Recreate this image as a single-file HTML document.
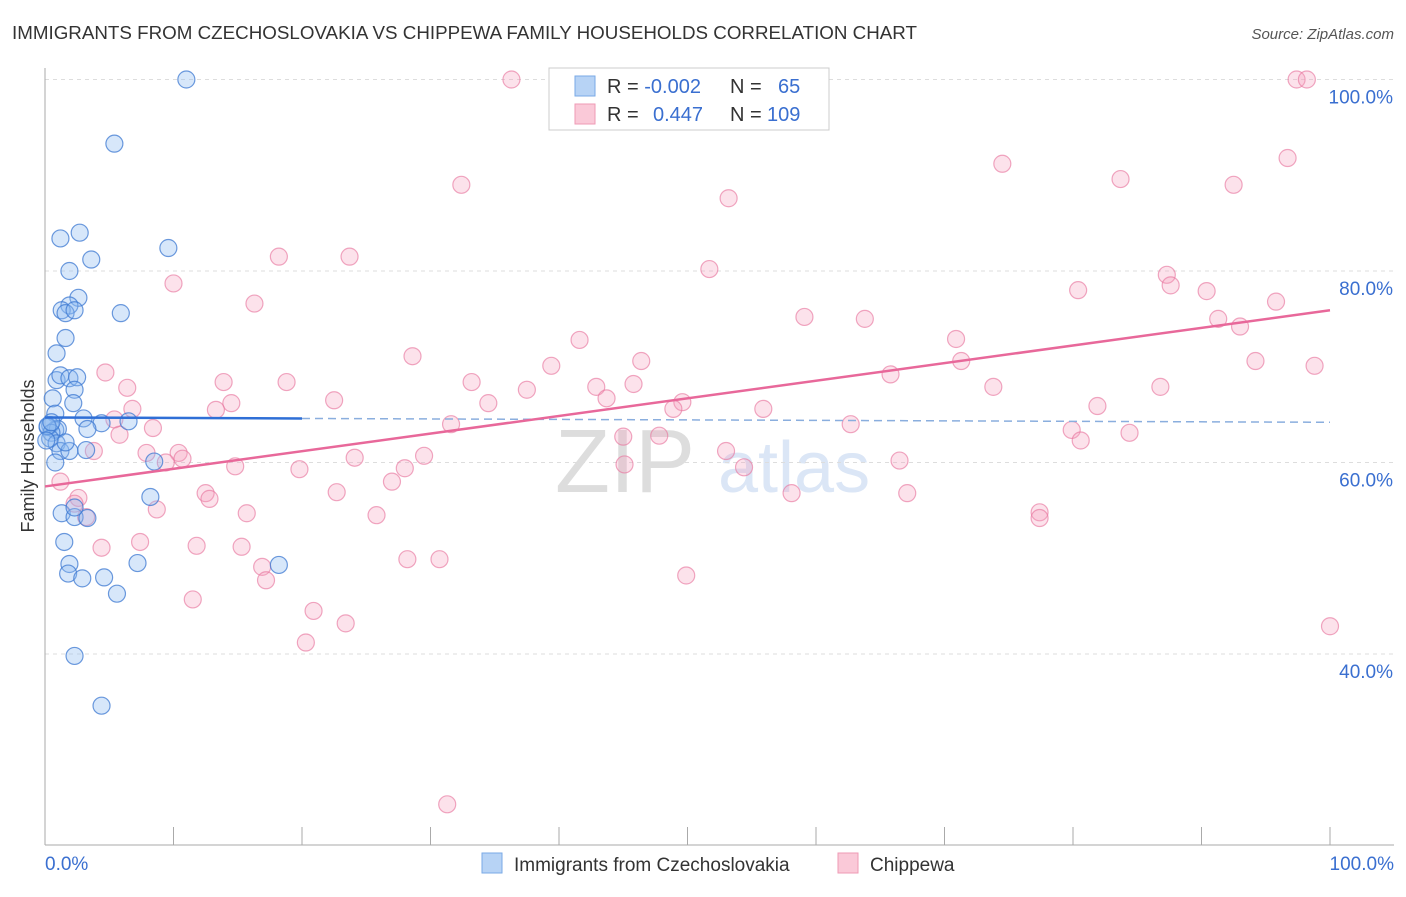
<!DOCTYPE html>
<html><head><meta charset="utf-8"><style>
body{margin:0;background:#fff;font-family:"Liberation Sans",sans-serif;}
svg text{font-family:"Liberation Sans",sans-serif;}
</style></head><body>
<svg id="c" width="1406" height="892" viewBox="0 0 1406 892">
<text x="12" y="39" font-size="18" fill="#333" textLength="905" lengthAdjust="spacingAndGlyphs">IMMIGRANTS FROM CZECHOSLOVAKIA VS CHIPPEWA FAMILY HOUSEHOLDS CORRELATION CHART</text>
<text x="1394" y="39" font-size="15" fill="#555" font-style="italic" text-anchor="end">Source: ZipAtlas.com</text>
<text x="34" y="456" font-size="18" fill="#333" text-anchor="middle" transform="rotate(-90 34 456)">Family Households</text>
<text x="555" y="492" font-size="90" fill="#ddd" font-family="Liberation Serif">ZIP</text>
<text x="718" y="492" font-size="72" fill="#dbe6f6">atlas</text>
<g id="grid"></g><g id="pts"></g><g id="lines"></g>
<g>
<rect x="549" y="68" width="280" height="62" fill="#fff" stroke="#ccc"/>
<rect x="575" y="76" width="20" height="20" fill="#b7d3f5" stroke="#7aa9e6"/>
<rect x="575" y="104" width="20" height="20" fill="#fac9d8" stroke="#ef9ab5"/>
<text x="607" y="93" font-size="20" fill="#333">R = <tspan fill="#3a6fd0">-0.002</tspan><tspan x="730">N = </tspan><tspan x="778" fill="#3a6fd0">65</tspan></text>
<text x="607" y="121" font-size="20" fill="#333">R = <tspan x="653" fill="#3a6fd0">0.447</tspan><tspan x="730">N = </tspan><tspan x="767" fill="#3a6fd0">109</tspan></text>
</g>
<g>
<rect x="482" y="853" width="20" height="20" fill="#b7d3f5" stroke="#7aa9e6"/>
<text x="514" y="871" font-size="19" fill="#333">Immigrants from Czechoslovakia</text>
<rect x="838" y="853" width="20" height="20" fill="#fac9d8" stroke="#ef9ab5"/>
<text x="870" y="871" font-size="19" fill="#333">Chippewa</text>
</g>
</svg>
<script>
const yTicks=[40,60,80,100];
const xTickLabels=["0.0%","100.0%"];
const blueX=[11,5.4,1.2,2.7,9.6,3.6,1.9,2.6,1.9,1.3,1.6,2.3,5.9,1.6,0.9,0.9,1.2,1.9,2.5,2.3,0.6,2.2,0.8,3.0,4.4,6.5,0.4,0.8,1.0,0.2,0.5,0.4,0.9,1.2,3.2,1.9,3.3,0.8,8.5,8.2,1.3,2.3,3.3,2.3,1.5,1.9,1.8,2.9,4.6,7.2,5.6,18.2,2.3,4.4,0.2,0.5,0.1,1.6];
const blueY=[100,93.3,83.4,84,82.4,81.2,80,77.2,76.4,75.9,75.6,75.9,75.6,73,71.4,68.6,69.1,68.8,68.9,67.6,66.7,66.2,65.1,64.6,64.1,64.3,63.9,63.4,63.5,63.7,63.1,62.5,62,61.2,61.3,61.2,63.5,60,60.1,56.4,54.7,54.3,54.2,55.3,51.7,49.4,48.4,47.9,48,49.5,46.3,49.3,39.8,34.6,63.8,64.2,62.3,62.1];
const pinkX=[36.3,97.4,98.2,96.7,74.5,32.4,83.7,92.5,53.2,18.2,23.7,10,51.7,87.3,87.6,80.4,90.4,16.3,59.1,63.8,91.3,93,95.8,70.9,41.6,28.6,46.4,39.4,71.3,94.2,98.8,4.7,65.8,86.8,6.4,13.9,18.8,33.2,37.5,42.9,45.8,73.8,22.5,43.7,14.5,34.5,49.6,13.3,6.8,48.9,55.9,81.9,5.4,31.6,62.7,45,79.9,84.4,5.8,8.4,80.6,47.8,3.8,7.9,10.4,10.7,9.4,53,54.4,24.1,29.5,66.5,45.1,14.8,19.8,28,27,1.2,12.5,12.8,22.7,67.1,58.1,2.6,2.3,8.7,3.2,15.7,25.8,77.4,77.4,7.4,4.4,11.8,15.3,16.9,28.2,30.7,17.2,49.9,11.5,20.9,20.3,23.4,100,31.3];
const pinkY=[100,100,100,91.8,91.2,89,89.6,89,87.6,81.5,81.5,78.7,80.2,79.6,78.5,78,77.9,76.6,75.2,75,75,74.2,76.8,72.9,72.8,71.1,70.6,70.1,70.6,70.6,70.1,69.4,69.2,67.9,67.8,68.4,68.4,68.4,67.6,67.9,68.2,67.9,66.5,66.7,66.2,66.2,66.3,65.5,65.6,65.6,65.6,65.9,64.5,64.0,64.0,62.7,63.4,63.1,62.9,63.6,62.3,62.8,61.2,61,61,60.4,60,61.2,59.5,60.5,60.7,60.2,59.8,59.6,59.3,59.4,58,58,56.8,56.2,56.9,56.8,56.8,56.3,55.7,55.1,54.3,54.7,54.5,54.8,54.2,51.7,51.1,51.3,51.2,49.1,49.9,49.9,47.7,48.2,45.7,44.5,41.2,43.2,42.9,24.3];
const blueFit=[64.7,64.2];
const pinkFit=[57.5,75.9];
const X=v=>45+v*12.85, Y=v=>79.5+(100-v)*9.575;
const NS="http://www.w3.org/2000/svg";
function mk(t,a,p){const e=document.createElementNS(NS,t);for(const k in a)e.setAttribute(k,a[k]);document.getElementById(p).appendChild(e);return e;}
for(const t of yTicks){
 const l=mk('line',{x1:45,x2:1394,y1:Y(t),y2:Y(t),stroke:'#ddd','stroke-dasharray':'4,4'},'grid');
 
 
 const tx=mk('text',{x:1393,y:Y(t)+24,'font-size':19,fill:'#3a6fd0','text-anchor':'end'},'grid');tx.textContent=t.toFixed(1)+'%';
 
 
}
mk('line',{x1:45,x2:45,y1:68,y2:845,stroke:'#aaa'},'grid');
mk('line',{x1:45,x2:1394,y1:845,y2:845,stroke:'#aaa'},'grid');
for(let i=0;i<=10;i++){mk('line',{x1:X(i*10),x2:X(i*10),y1:827,y2:845,stroke:'#aaa'},'grid');}
const x0=mk('text',{x:45,y:870,'font-size':19,fill:'#3a6fd0'},'grid');x0.textContent=xTickLabels[0];


const x1=mk('text',{x:1394,y:870,'font-size':19,fill:'#3a6fd0','text-anchor':'end'},'grid');x1.textContent=xTickLabels[1];


pinkX.forEach((v,i)=>{const c=mk('circle',{cx:X(v),cy:Y(pinkY[i]),r:8.5,fill:'rgba(244,160,188,0.3)',stroke:'rgba(232,120,160,0.65)','stroke-width':1.2},'pts');
 
 });
blueX.forEach((v,i)=>{const c=mk('circle',{cx:X(v),cy:Y(blueY[i]),r:8.5,fill:'rgba(140,185,240,0.35)',stroke:'rgba(60,120,210,0.75)','stroke-width':1.2},'pts');
 
 });
const by=x=>blueFit[0]+(blueFit[1]-blueFit[0])*x/100;
const bl=mk('line',{x1:X(0),y1:Y(by(0)),x2:X(20),y2:Y(by(20)),stroke:'#2f6fd6','stroke-width':2.5},'lines');


const bd=mk('line',{x1:X(20),y1:Y(by(20)),x2:X(100),y2:Y(by(100)),stroke:'#8aaede','stroke-width':1.5,'stroke-dasharray':'8,5'},'lines');


const pl=mk('line',{x1:X(0),y1:Y(pinkFit[0]),x2:X(100),y2:Y(pinkFit[1]),stroke:'#e8689a','stroke-width':2.5},'lines');


</script>
</body></html>
